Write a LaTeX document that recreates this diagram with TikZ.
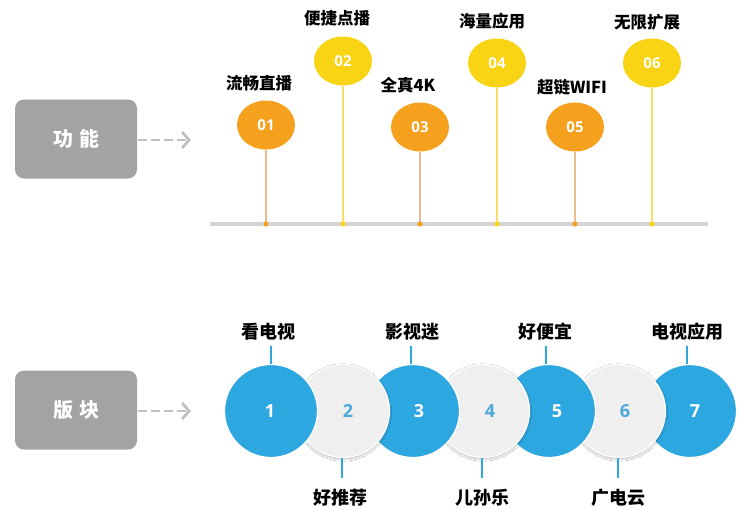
\documentclass[tikz,border=0pt]{standalone}
\usepackage{fontspec}
\setmainfont{Noto Sans CJK SC}
\newfontfamily\numfont{Open Sans}
\usetikzlibrary{shapes.geometric,arrows.meta,shadows.blur}
\definecolor{boxgray}{HTML}{A3A3A3}
\definecolor{arrowgray}{HTML}{C0C0C0}
\definecolor{basegray}{HTML}{D4D4D4}
\definecolor{orng}{HTML}{F5A11E}
\definecolor{ylw}{HTML}{F9D414}
\definecolor{orngline}{HTML}{EBBC8C}
\definecolor{ylwline}{HTML}{F6E06A}
\definecolor{tvblue}{HTML}{2DA7E0}
\definecolor{lightgray}{HTML}{EFEFEF}
\definecolor{numblue}{HTML}{4AA9DA}
\tikzset{
  catbox/.style={fill=boxgray, rounded corners=9pt, minimum width=122pt, minimum height=79pt, inner sep=0pt, text=white, font=\bfseries\fontsize{20}{20}\selectfont},
  dasharrow/.style={arrowgray, line width=2.8pt, dash pattern=on 9pt off 4pt, -{Straight Barb[length=7pt,width=16pt,line width=2.8pt]}},
  topdisc/.style={ellipse, minimum width=58pt, minimum height=49pt, inner sep=0pt, text=white, font=\numfont\bfseries\fontsize{15}{15}\selectfont},
  toplab/.style={font=\bfseries\fontsize{16.5}{16.5}\selectfont, text=black, inner sep=0pt},
  bluedisc/.style={circle, fill=tvblue, draw=white, line width=1.2pt, minimum size=93pt, inner sep=0pt},
  graydisc/.style={circle, fill=lightgray, draw=white, line width=1.2pt, minimum size=93pt, inner sep=0pt,
     blur shadow={shadow xshift=0pt, shadow yshift=-1.5pt, shadow blur steps=6, shadow opacity=30}},
  bnum/.style={font=\numfont\bfseries\fontsize{18}{18}\selectfont, inner sep=0pt},
  botlab/.style={font=\bfseries\fontsize{18}{18}\selectfont, text=black, inner sep=0pt},
  tick/.style={tvblue, line width=1.6pt}
}
\begin{document}
\begin{tikzpicture}[x=1pt,y=-1pt]
\useasboundingbox (0,0) rectangle (744,509);
\fill[white] (0,0) rectangle (744,509);

% category boxes
\node[catbox] (b1) at (76,139) {功\hspace{6pt}能};
\coordinate (a1) at (191,140);
\draw[dasharrow] (b1.east) ++(1,1) -- (a1);
\node[catbox] (b2) at (76,410) {版\hspace{6pt}块};
\coordinate (a2) at (191,411);
\draw[dasharrow] (b2.east) ++(1,1) -- (a2);

% top timeline
\coordinate (bl) at (210,224);
\coordinate (br) at (708,224);
\draw[basegray, line width=4pt] (bl) -- (br);

\foreach \i/\x/\y/\c/\lc in {1/266/125/orng/orngline, 2/343/61/ylw/ylwline, 3/420/127/orng/orngline, 4/497/63/ylw/ylwline, 5/575/127/orng/orngline, 6/652/63/ylw/ylwline}{
  \node[topdisc, fill=\c] (e\i) at (\x,\y) {0\i};
  \coordinate (d\i) at (\x,224);
  \draw[\lc, line width=1.5pt] (e\i.south) -- (d\i);
  \fill[\c] (d\i) circle (2.6pt);
}
\node[toplab] (t1) at (259,83) {流畅直播};
\node[toplab] (t2) at (337,18) {便捷点播};
\node[toplab] (t3) at (408,85) {全真4K};
\node[toplab] (t4) at (492,21) {海量应用};
\node[toplab] (t5) at (572,87) {超链WIFI};
\node[toplab] (t6) at (647,22) {无限扩展};

% bottom circles (drawn right to left so each covers the next)
\node[bluedisc] (c7) at (690,411) {};
\node[graydisc] (c6) at (619,411) {};
\node[bluedisc] (c5) at (549,411) {};
\node[graydisc] (c4) at (483,411) {};
\node[bluedisc] (c3) at (413,411) {};
\node[graydisc] (c2) at (343,411) {};
\node[bluedisc] (c1) at (271,411) {};

\node[bnum, text=white] (n1) at (270,411) {1};
\node[bnum, text=numblue] (n2) at (348,411) {2};
\node[bnum, text=white] (n3) at (419,411) {3};
\node[bnum, text=numblue] (n4) at (490,411) {4};
\node[bnum, text=white] (n5) at (557,411) {5};
\node[bnum, text=numblue] (n6) at (625,411) {6};
\node[bnum, text=white] (n7) at (695,411) {7};

% labels above blue circles
\node[botlab] (l1) at (268,332) {看电视};
\node[botlab] (l3) at (412,332) {影视迷};
\node[botlab] (l5) at (545,332) {好便宜};
\node[botlab] (l7) at (687,332) {电视应用};
\coordinate (u1) at (271,346);
\coordinate (u3) at (411,346);
\coordinate (u5) at (546,346);
\coordinate (u7) at (687,346);
\draw[tick] (u1) -- (c1.north);
\draw[tick] (u3) -- (u3 |- c3.north);
\draw[tick] (u5) -- (u5 |- c5.north);
\draw[tick] (u7) -- (u7 |- c7.north);

% labels below gray circles
\node[botlab] (l2) at (340,498) {好推荐};
\node[botlab] (l4) at (482,498) {儿孙乐};
\node[botlab] (l6) at (618,498) {广电云};
\coordinate (v2) at (342,478);
\coordinate (v4) at (482,478);
\coordinate (v6) at (618,478);
\draw[tick] (v2 |- c2.south) -- (v2);
\draw[tick] (v4 |- c4.south) -- (v4);
\draw[tick] (v6 |- c6.south) -- (v6);
\end{tikzpicture}
\end{document}
